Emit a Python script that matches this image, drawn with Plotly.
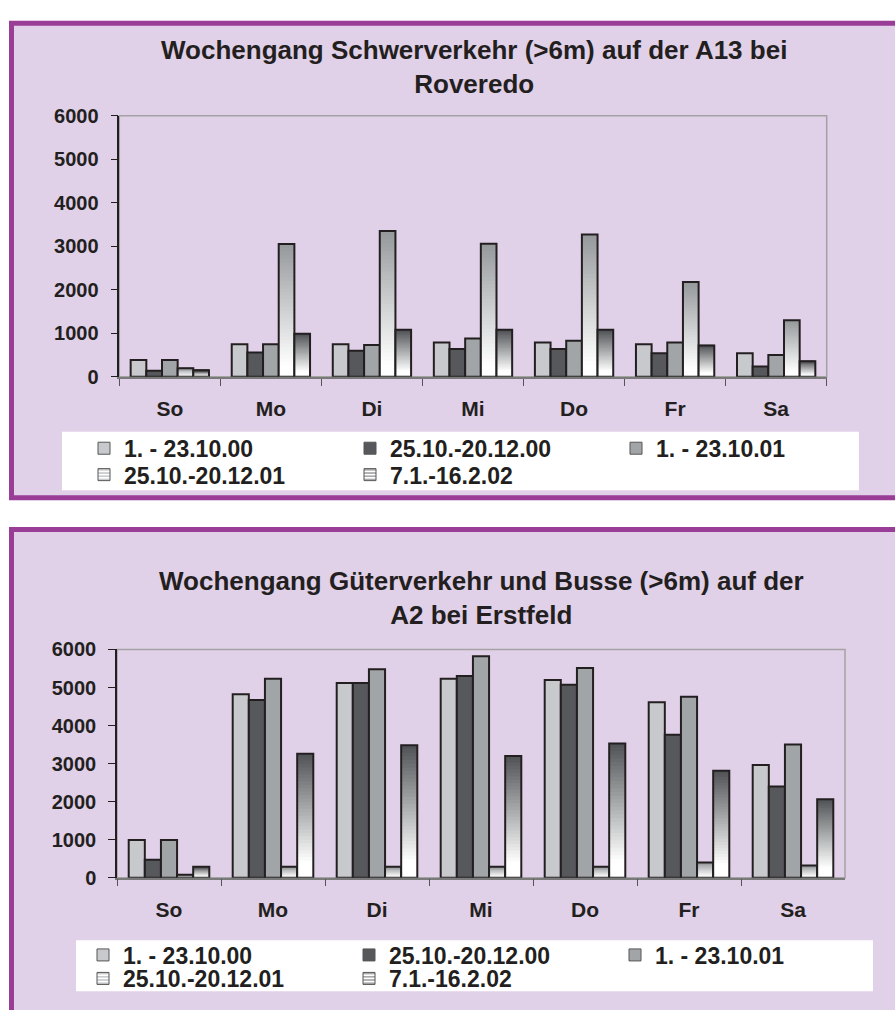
import plotly.graph_objects as go

# ---------------- data ----------------
days = ["So", "Mo", "Di", "Mi", "Do", "Fr", "Sa"]
series_names = ["1. - 23.10.00", "25.10.-20.12.00", "1. - 23.10.01",
                "25.10.-20.12.01", "7.1.-16.2.02"]

roveredo_s1 = [390, 750, 750, 790, 790, 750, 540]
roveredo_s2 = [140, 560, 600, 640, 640, 540, 240]
roveredo_s3 = [390, 750, 730, 880, 830, 790, 500]
roveredo_s4 = [200, 3050, 3350, 3060, 3270, 2180, 1300]
roveredo_s5 = [150, 990, 1080, 1080, 1080, 720, 360]

erstfeld_s1 = [990, 4820, 5120, 5230, 5200, 4610, 2960]
erstfeld_s2 = [470, 4670, 5120, 5300, 5070, 3760, 2400]
erstfeld_s3 = [990, 5230, 5480, 5820, 5510, 4760, 3500]
erstfeld_s4 = [80, 290, 290, 290, 290, 400, 320]
erstfeld_s5 = [290, 3260, 3480, 3200, 3530, 2810, 2060]

y_ticks = [0, 1000, 2000, 3000, 4000, 5000, 6000]

title_top = "Wochengang Schwerverkehr (>6m) auf der A13 bei<br>Roveredo"
title_bottom = "Wochengang Güterverkehr und Busse (>6m) auf der<br>A2 bei Erstfeld"

# ---------------- styling ----------------
W, H = 895, 1010
FONT = "Liberation Sans"
TXT = "#231f20"
PURPLE = "#993d97"
LAVENDER = "#e0d0e8"
OUTLINE = "#231f20"

solid_colors = ["#c8c9cd", "#57585c", "#a2a5a8"]
grad_tops = ["#95989b", "#4f5155"]
K = 36
BW = 0.155


def px_x(p):
    return p / W


def px_y(p):
    return 1 - p / H


def mix(c_top, t):
    c = c_top.lstrip("#")
    r, g, b = int(c[0:2], 16), int(c[2:4], 16), int(c[4:6], 16)
    r = round(255 + (r - 255) * t)
    g = round(255 + (g - 255) * t)
    b = round(255 + (b - 255) * t)
    return f"rgb({r},{g},{b})"


def grad_t(u, start):
    if u <= start:
        return 0.0
    return min(1.0, (u - start) / (1 - start))


fig = go.Figure()


def add_chart(xref, yref, data, legends):
    for i, vals in enumerate(data):
        off = -2.5 * BW + i * BW
        if i < 3:
            fig.add_trace(go.Bar(
                x=days, y=vals, width=BW, offset=off,
                marker=dict(color=solid_colors[i], line=dict(color=OUTLINE, width=2)),
                showlegend=False, hoverinfo="y", xaxis=xref, yaxis=yref))
        else:
            top = grad_tops[i - 3]
            start = 0.08 if i == 3 else 0.12
            for k in range(K):
                frac = k / K
                fig.add_trace(go.Bar(
                    x=days, y=[v * (1 - frac) for v in vals],
                    base=[v * frac for v in vals], width=BW, offset=off,
                    marker=dict(color=mix(top, grad_t((k + 0.5) / K, start)),
                                line=dict(width=0)),
                    showlegend=False, hoverinfo="skip", xaxis=xref, yaxis=yref))
            fig.add_trace(go.Bar(
                x=days, y=vals, width=BW, offset=off,
                marker=dict(color="rgba(0,0,0,0)", line=dict(color=OUTLINE, width=2)),
                showlegend=False, hoverinfo="y", xaxis=xref, yaxis=yref))
    # legend entries
    for i, name in enumerate(series_names):
        lg = legends[0] if i < 3 else legends[1]
        if i < 3:
            marker = dict(color=solid_colors[i], line=dict(color="#555555", width=1))
        else:
            marker = dict(color="white",
                          pattern=dict(shape="-", fgcolor=grad_tops[i - 3],
                                       bgcolor="white", size=4, solidity=0.5),
                          line=dict(color="#555555", width=1))
        fig.add_trace(go.Bar(x=[None], y=[None], name=name, marker=marker,
                             legend=lg, xaxis=xref, yaxis=yref, showlegend=True))


add_chart("x", "y",
          [roveredo_s1, roveredo_s2, roveredo_s3, roveredo_s4, roveredo_s5],
          ["legend", "legend2"])
add_chart("x2", "y2",
          [erstfeld_s1, erstfeld_s2, erstfeld_s3, erstfeld_s4, erstfeld_s5],
          ["legend3", "legend4"])

shapes = []
# panels
shapes.append(dict(type="rect", xref="paper", yref="paper",
                   x0=px_x(11.5), x1=px_x(910), y0=px_y(497.5), y1=px_y(12.5),
                   fillcolor=LAVENDER, line=dict(color=PURPLE, width=5), layer="below"))
shapes.append(dict(type="rect", xref="paper", yref="paper",
                   x0=px_x(11.5), x1=px_x(910), y0=px_y(1025), y1=px_y(530),
                   fillcolor=LAVENDER, line=dict(color=PURPLE, width=5), layer="below"))
# legend boxes
shapes.append(dict(type="rect", xref="paper", yref="paper",
                   x0=px_x(62), x1=px_x(859), y0=px_y(490), y1=px_y(430),
                   fillcolor="white", line=dict(width=0), layer="below"))
shapes.append(dict(type="rect", xref="paper", yref="paper",
                   x0=px_x(76), x1=px_x(873), y0=px_y(1002), y1=px_y(950),
                   fillcolor="white", line=dict(width=0), layer="below"))
# plot area frames
for xr, yr in (("x domain", "y domain"), ("x2 domain", "y2 domain")):
    shapes.append(dict(type="rect", xref=xr, yref=yr, x0=0, x1=1, y0=0, y1=1,
                       line=dict(color="#a3a3a3", width=1.5), layer="below"))

tickfont_y = dict(family=FONT, size=20, color=TXT, weight="bold")
tickfont_x = dict(family=FONT, size=21, color=TXT, weight="bold")


def xaxis_def(domain, anchor):
    return dict(domain=domain, anchor=anchor, type="category", range=[-0.5, 6.5],
                showline=True, linecolor="#7a7a7a", linewidth=1.5,
                ticks="outside", tickson="boundaries", ticklen=7, tickcolor="#555555",
                tickwidth=1.2, showgrid=False, tickfont=tickfont_x,
                ticklabelstandoff=12, fixedrange=True)


def yaxis_def(domain, anchor):
    return dict(domain=domain, anchor=anchor, range=[0, 6000], tickvals=y_ticks,
                showline=True, linecolor=TXT, linewidth=1.5, ticks="outside",
                ticklen=7, tickcolor=TXT, tickwidth=1.2, showgrid=False,
                zeroline=False, tickfont=tickfont_y, ticklabelstandoff=8,
                fixedrange=True)


def legend_def(x_px, y_px):
    return dict(orientation="h", x=px_x(x_px), xanchor="left", y=px_y(y_px),
                yanchor="middle", bgcolor="rgba(0,0,0,0)", borderwidth=0,
                entrywidth=221, entrywidthmode="pixels", traceorder="normal",
                font=dict(family=FONT, size=23, color=TXT, weight="bold"),
                itemclick=False, itemdoubleclick=False)


fig.update_layout(
    width=W, height=H,
    margin=dict(l=0, r=0, t=0, b=0),
    paper_bgcolor="white", plot_bgcolor="rgba(0,0,0,0)",
    barmode="overlay",
    showlegend=True,
    xaxis=xaxis_def([px_x(119.3), px_x(826.7)], "y"),
    yaxis=yaxis_def([px_y(374), px_y(107)], "x"),
    xaxis2=xaxis_def([px_x(117), px_x(845)], "y2"),
    yaxis2=yaxis_def([px_y(886), px_y(652.7)], "x2"),
    legend=legend_def(84, 447),
    legend2=legend_def(84, 474),
    legend3=legend_def(83, 965),
    legend4=legend_def(83, 989),
    shapes=shapes,
    annotations=[
        dict(text=title_top, xref="paper", yref="paper", x=px_x(474), y=px_y(57),
             xanchor="center", yanchor="middle", showarrow=False,
             font=dict(family=FONT, size=26, color=TXT, weight="bold")),
        dict(text=title_bottom, xref="paper", yref="paper", x=px_x(481), y=px_y(600),
             xanchor="center", yanchor="middle", showarrow=False,
             font=dict(family=FONT, size=26, color=TXT, weight="bold")),
    ],
)

fig.write_html("out.html",
               config={"displayModeBar": False},
               post_script="document.body.style.margin='0px';"
                           "document.body.style.overflow='hidden';")
